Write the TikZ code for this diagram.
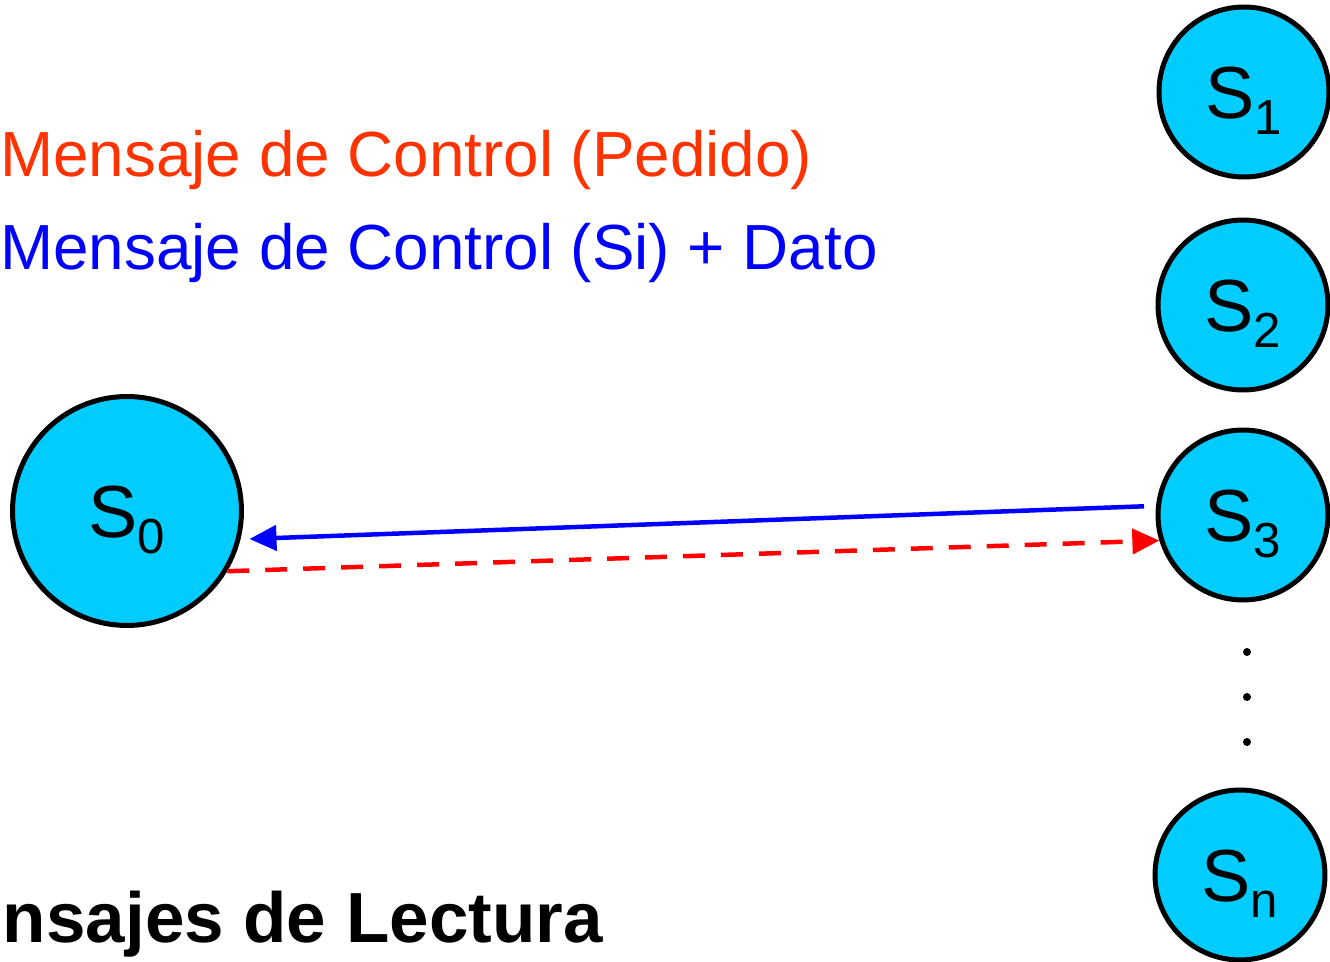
\documentclass[tikz,border=0pt]{standalone}
\usepackage{fontspec}
\setmainfont{Liberation Sans}
\usetikzlibrary{arrows.meta, positioning}

\definecolor{sitecyan}{RGB}{0,204,255}
\definecolor{msgorange}{RGB}{255,51,0}

\newcommand{\sitelabel}[1]{S\raisebox{-0.22em}{\fontsize{28}{28}\selectfont #1}}

\begin{document}
\begin{tikzpicture}[x=0.02cm, y=-0.02cm,
                site/.style={circle, draw, line width=0.1cm, fill=sitecyan, inner sep=0pt, minimum size=3.4cm, text height=30pt, text depth=0pt, font=\fontsize{42}{42}\selectfont},
                bigsite/.style={site, minimum size=4.58cm},
                msg/.style={anchor=base west, inner sep=0pt, font=\fontsize{36.3}{36.3}\selectfont},
                pedido/.style={line width=0.09cm, red, dash pattern=on 0.44cm off 0.32cm, -{Triangle[length=0.54cm, width=0.5cm]}},
                respuesta/.style={line width=0.09cm, blue, -{Triangle[length=0.54cm, width=0.5cm]}}
            ]
                \clip (0,0) rectangle (1330,962);

                \node[msg, text=msgorange] (txtpedido) at (0,177) {Mensaje de Control (Pedido)};
                \node[msg, text=blue] (txtdato) at (0,270) {Mensaje de Control (Si) + Dato};

                \node[bigsite] (s0) at (127,511) {\sitelabel{0}};
                \node[site] (s1) at (1244,92) {\sitelabel{1}};
                \node[site] (s2) at (1243,305) {\sitelabel{2}};
                \node[site] (s3) at (1243,515) {\sitelabel{3}};
                \node[site] (sn) at (1240,875) {\sitelabel{n}};

                \fill (1247,652) circle (0.08cm);
                \fill (1247,697) circle (0.08cm);
                \fill (1247,742) circle (0.08cm);

                \node[anchor=base east, inner sep=0pt, font=\bfseries\fontsize{40.4}{40.4}\selectfont] (lectura) at (603,943) {nsajes de Lectura};

                \draw[respuesta, shorten <=0.24cm, shorten >=0.18cm] (s3.174) -- (s0.-14);
                \draw[pedido] (s0.-31) -- (s3.197);
            \end{tikzpicture}
\end{document}
